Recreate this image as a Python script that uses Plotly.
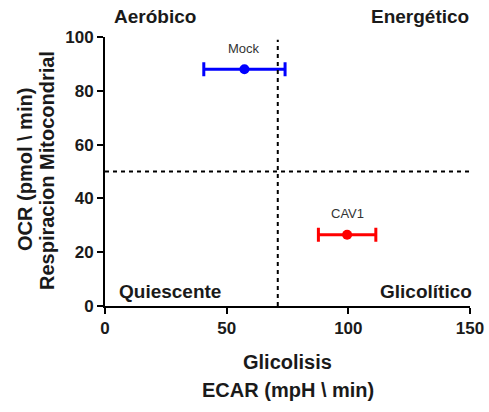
import plotly.graph_objects as go

# Data
groups = ["Mock", "CAV1"]
ecar = [57.3, 99.5]
ecar_err = [16.7, 11.8]
ocr = [88.0, 26.5]
colors = ["#0000FF", "#FF0000"]

x_ticks = [0, 50, 100, 150]
y_ticks = [0, 20, 40, 60, 80, 100]
x_cut = 71
y_cut = 50

quadrants = ["Aeróbico", "Energético", "Quiescente", "Glicolítico"]

FONT = "Liberation Sans, Arial, sans-serif"

fig = go.Figure()
for g, x, xe, y, c in zip(groups, ecar, ecar_err, ocr, colors):
    fig.add_trace(go.Scatter(
        x=[x], y=[y], mode="markers", name=g,
        marker=dict(color=c, size=10),
        error_x=dict(type="data", array=[xe], color=c, thickness=3, width=7),
        showlegend=False, cliponaxis=False, hoverinfo="skip",
    ))
    fig.add_annotation(x=x, y=y, text=g, showarrow=False, yshift=21,
                       font=dict(family=FONT, size=13, color="#333333"),
                       xanchor="center", yanchor="middle")

# dashed quadrant lines
fig.add_shape(type="line", x0=x_cut, x1=x_cut, y0=0, y1=99, xref="x", yref="y",
              line=dict(color="black", width=2, dash="4px,4px"))
fig.add_shape(type="line", x0=0, x1=150, y0=y_cut, y1=y_cut, xref="x", yref="y",
              line=dict(color="black", width=2, dash="4px,4px"))

# quadrant labels in paper coordinates (plot area: x 105..470 px, y 37..306 px)
def px_to_paper(px, py):
    return (px - 105) / 365, (306 - py) / 269

qfont = dict(family=FONT, size=19, color="#1a1a1a")
qpos = [(155, 17), (419.5, 17), (169.5, 291), (425.5, 291)]
for t, (qx, qy) in zip(quadrants, qpos):
    px, py = px_to_paper(qx, qy)
    fig.add_annotation(xref="paper", yref="paper", x=px, y=py, text="<b>" + t + "</b>",
                       showarrow=False, xanchor="center", yanchor="middle", font=qfont)

tfont = dict(family=FONT, size=20, color="#1a1a1a")
fig.add_annotation(xref="paper", yref="paper", x=0.5, y=px_to_paper(0, 362)[1],
                   text="<b>Glicolisis</b>",
                   showarrow=False, xanchor="center", yanchor="middle", font=tfont)
fig.add_annotation(xref="paper", yref="paper", x=0.5, y=px_to_paper(0, 390)[1],
                   text="<b>ECAR (mpH \\ min)</b>",
                   showarrow=False, xanchor="center", yanchor="middle", font=tfont)
fig.add_annotation(xref="paper", yref="paper", x=px_to_paper(25, 0)[0], y=px_to_paper(0, 170)[1],
                   text="<b>OCR (pmol \\ min)</b>", textangle=-90,
                   showarrow=False, xanchor="center", yanchor="middle", font=tfont)
fig.add_annotation(xref="paper", yref="paper", x=px_to_paper(47, 0)[0], y=px_to_paper(0, 171)[1],
                   text="<b>Respiracion Mitocondrial</b>", textangle=-90,
                   showarrow=False, xanchor="center", yanchor="middle", font=tfont)

axis_common = dict(showline=True, linewidth=2, linecolor="black", ticks="outside",
                   ticklen=6, tickwidth=2, tickcolor="black", showgrid=False,
                   zeroline=False, automargin=False,
                   tickfont=dict(family=FONT, size=17, color="#1a1a1a", weight="bold"))
fig.update_xaxes(range=[0, 150], tickvals=x_ticks, **axis_common)
fig.update_yaxes(range=[0, 100], tickvals=y_ticks, **axis_common)

fig.update_layout(width=489, height=412,
                  margin=dict(l=105, r=19, t=37, b=106),
                  plot_bgcolor="white", paper_bgcolor="white",
                  font=dict(family=FONT), hovermode=False)
fig.write_html("out.html", config={"displayModeBar": False},
               post_script="document.body.style.margin='0';")
